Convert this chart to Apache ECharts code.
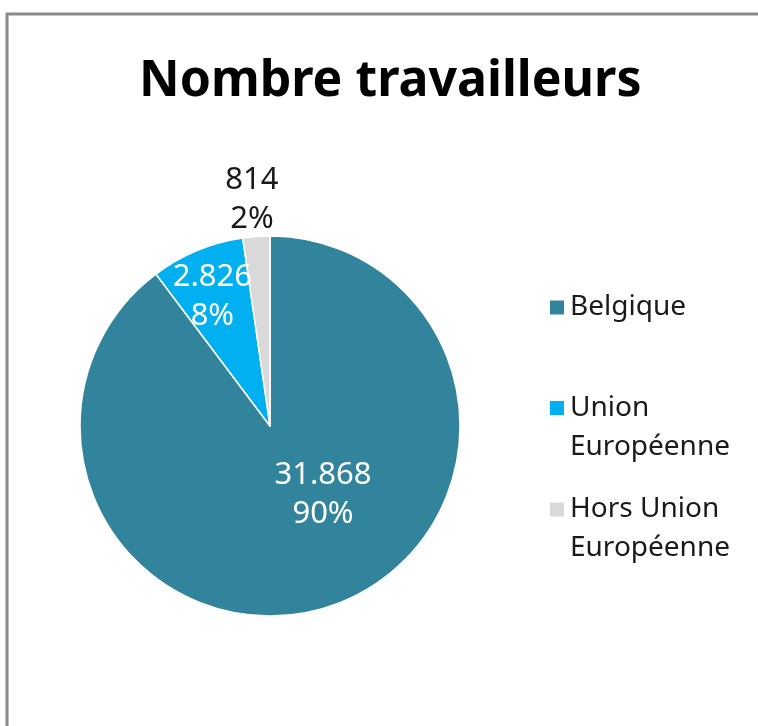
<!DOCTYPE html>
<html>
<head>
<meta charset="utf-8">
<script src="https://cdn.jsdelivr.net/npm/echarts@6/dist/echarts.min.js"></script>
<style>
  html, body { margin: 0; padding: 0; background: #fff; }
  #chart { width: 758px; height: 726px; }
</style>
</head>
<body>
<div id="chart"></div>
<script>
// catégories et valeurs
const categories = ["Belgique", "Union Européenne", "Hors Union Européenne"];
const legendLabels = [" \nBelgique\n ", " \nUnion\nEuropéenne", " \nHors Union\nEuropéenne"];
const values = [31868, 2826, 814];
const colors = ["#31849b", "#00b0f0", "#d9d9d9"];

// format belge : 31.868
function fmt(v) {
  return String(v).replace(/\B(?=(\d{3})+(?!\d))/g, ".");
}

const labelColor = ["#ffffff", "#ffffff", "#1a1a1a"];
const labelShift = [[22, -24], [-20, -39], [-11, -129]];

const chart = echarts.init(document.getElementById("chart"));

// une légende par entrée, icône alignée sur la première ligne
const legendTops = [249, 349.5, 451];
const legends = categories.map((c, i) => ({
  data: [c],
  orient: "vertical",
  left: 548,
  top: legendTops[i],
  padding: 0,
  itemWidth: 16,
  itemHeight: 16,
  icon: "rect",
  selectedMode: false,
  formatter: () => legendLabels[i],
  textStyle: {
    fontFamily: "Noto Sans",
    fontSize: 28,
    lineHeight: 39,
    color: "#1a1a1a"
  }
}));

const option = {
  animation: false,
  color: colors,
  title: {
    text: "Nombre travailleurs",
    left: 139,
    top: 57,
    padding: 0,
    textStyle: {
      fontFamily: "Noto Sans",
      fontWeight: "bold",
      fontSize: 50,
      color: "#000"
    }
  },
  graphic: [
    {
      type: "rect",
      shape: { x: 7, y: 14, width: 800, height: 800 },
      style: { fill: "none", stroke: "#8a8a8a", lineWidth: 3 },
      silent: true
    }
  ],
  legend: legends,
  series: [
    {
      type: "pie",
      center: [270, 426],
      radius: 190,
      startAngle: 90,
      clockwise: true,
      avoidLabelOverlap: false,
      itemStyle: { borderColor: "#fff", borderWidth: 1.5 },
      labelLine: { show: false },
      data: categories.map((c, i) => ({
        name: c,
        value: values[i],
        label: {
          color: labelColor[i],
          offset: labelShift[i]
        }
      })),
      label: {
        show: true,
        position: "inside",
        fontFamily: "Noto Sans",
        fontSize: 31,
        lineHeight: 39,
        formatter: p => fmt(p.value) + "\n" + Math.round(p.percent) + "%"
      },
      emphasis: { disabled: true }
    }
  ]
};

chart.setOption(option);
</script>
</body>
</html>
